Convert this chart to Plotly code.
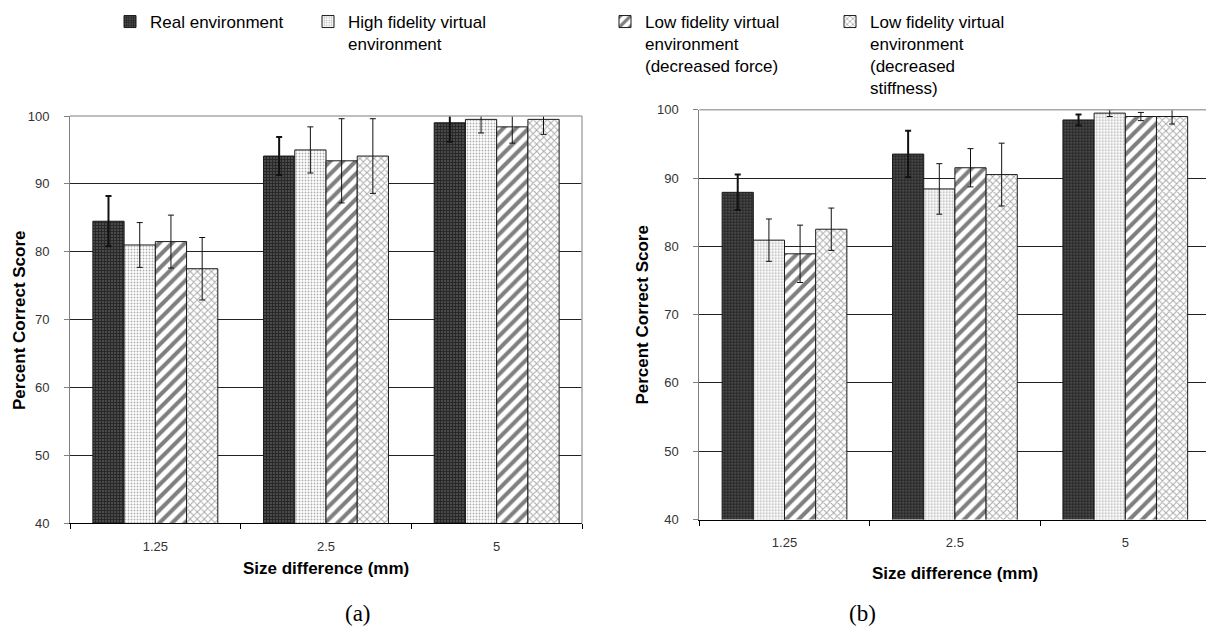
import plotly.graph_objects as go

W, H = 1206, 632

categories = ["1.25", "2.5", "5"]
series = [
    "Real environment",
    "High fidelity virtual<br>environment",
    "Low fidelity virtual<br>environment<br>(decreased force)",
    "Low fidelity virtual<br>environment<br>(decreased<br>stiffness)",
]

# Panel (a)
a_real = [84.5, 94.1, 99.0]
a_high = [81.0, 95.0, 99.5]
a_lowf = [81.5, 93.4, 98.4]
a_lows = [77.5, 94.1, 99.5]
a_real_err = [3.7, 2.8, 2.8]
a_high_err = [3.3, 3.4, 2.0]
a_lowf_err = [3.9, 6.2, 2.4]
a_lows_err = [4.6, 5.5, 2.2]

# Panel (b)
b_real = [87.9, 93.5, 98.5]
b_high = [80.9, 88.4, 99.5]
b_lowf = [78.9, 91.5, 99.0]
b_lows = [82.5, 90.5, 99.0]
b_real_err = [2.6, 3.4, 0.8]
b_high_err = [3.1, 3.7, 0.5]
b_lowf_err = [4.2, 2.8, 0.6]
b_lows_err = [3.1, 4.6, 1.1]

styles = [
    dict(color="#2e2e2e", pattern=dict(shape="+", fgcolor="#000000", bgcolor="#4a4a4a", size=3, solidity=0.5)),
    dict(color="#ffffff", pattern=dict(shape=".", fgcolor="#5e5e5e", bgcolor="#ffffff", size=3, solidity=0.3)),
    dict(color="#ffffff", pattern=dict(shape="/", fgcolor="#000000", bgcolor="#ffffff", size=9, solidity=0.45)),
    dict(color="#ffffff", pattern=dict(shape="x", fgcolor="#555555", bgcolor="#ffffff", size=5, solidity=0.38)),
]
err_thick = [2, 1, 1, 1]
legend_ids = ["legend", "legend2", "legend3", "legend4"]

def px(x):
    return x / W

def py(y):
    return 1 - y / H

fig = go.Figure()

panels = [
    ("x", "y", [a_real, a_high, a_lowf, a_lows], [a_real_err, a_high_err, a_lowf_err, a_lows_err], True),
    ("x2", "y2", [b_real, b_high, b_lowf, b_lows], [b_real_err, b_high_err, b_lowf_err, b_lows_err], False),
]

for pi, (xa, ya, vals, errs, clip) in enumerate(panels):
    for i in range(4):
        show = (pi == 0 and i < 2) or (pi == 1 and i >= 2)
        fig.add_trace(go.Bar(
            x=categories, y=vals[i], name=series[i],
            xaxis=xa, yaxis=ya,
            marker=dict(color=styles[i]["color"], pattern=styles[i]["pattern"],
                        line=dict(color="#1a1a1a", width=1)),
            error_y=dict(type="data", array=errs[i], visible=True,
                         color="#111111", thickness=err_thick[i], width=3),
            showlegend=show, legend=legend_ids[i], cliponaxis=clip,
        ))

axis_font = dict(family="Liberation Sans, Arial, sans-serif", size=13, color="#333333")

xcommon = dict(type="category", showline=True, linecolor="#000000", linewidth=1,
               ticks="outside", tickson="boundaries", ticklen=5, tickcolor="#000000",
               showgrid=False, tickfont=axis_font, ticklabelstandoff=11, fixedrange=True,
               automargin=False)
ycommon = dict(range=[40, 100], dtick=10, showline=True, linecolor="#808080", linewidth=1,
               ticks="outside", ticklen=5, tickcolor="#808080", showgrid=True,
               gridcolor="#222222", gridwidth=1, zeroline=False, tickfont=axis_font,
               ticklabelstandoff=12, automargin=False)

a_x0, a_x1 = 70, 582
b_x0, b_x1 = 699.3, 1206
b_catw = 170.4

leg_font = dict(family="Liberation Sans, Arial, sans-serif", size=17, color="#000000")
leg_common = dict(orientation="v", xanchor="left", yanchor="top", valign="top",
                  xref="container", yref="container",
                  bgcolor="rgba(0,0,0,0)", borderwidth=0, font=leg_font,
                  itemclick=False, itemdoubleclick=False)

leg_y = py(4)
fig.update_layout(
    width=W, height=H,
    margin=dict(l=0, r=0, t=0, b=0, autoexpand=False),
    paper_bgcolor="#ffffff", plot_bgcolor="#ffffff",
    barmode="group", bargap=0.268, bargroupgap=0,
    xaxis=dict(domain=[px(a_x0), px(a_x1)], anchor="y", range=[-0.5, 2.5], **xcommon),
    yaxis=dict(domain=[py(523.3), py(116)], anchor="x", **ycommon),
    xaxis2=dict(domain=[px(b_x0), px(b_x1)], anchor="y2",
                range=[-0.5, -0.5 + (b_x1 - b_x0) / b_catw], **xcommon),
    yaxis2=dict(domain=[py(519.5), py(109.7)], anchor="x2", **ycommon),
    legend=dict(x=px(110), y=leg_y, **leg_common),
    legend2=dict(x=px(308), y=leg_y, **leg_common),
    legend3=dict(x=px(605), y=leg_y, **leg_common),
    legend4=dict(x=px(830), y=leg_y, **leg_common),
    font=dict(family="Liberation Sans, Arial, sans-serif"),
)

# plot-area frame (top and right) in light gray
frame = dict(type="line", line=dict(color="#a8a8a8", width=1.5), layer="above")
fig.add_shape(xref="x domain", yref="y domain", x0=0, x1=1, y0=1, y1=1, **frame)
fig.add_shape(xref="x domain", yref="y domain", x0=1, x1=1, y0=0, y1=1, **frame)
fig.add_shape(xref="x2 domain", yref="y2 domain", x0=0, x1=1, y0=1, y1=1, **frame)

title_font = dict(family="Liberation Sans, Arial, sans-serif", size=17, color="#000000")
annos = [
    dict(text="<b>Percent Correct Score</b>", x=px(19), y=py(320), textangle=-90),
    dict(text="<b>Percent Correct Score</b>", x=px(643), y=py(314.6), textangle=-90),
    dict(text="<b>Size difference (mm)</b>", x=px(326), y=py(568)),
    dict(text="<b>Size difference (mm)</b>", x=px(955), y=py(573)),
]
for a in annos:
    fig.add_annotation(xref="paper", yref="paper", showarrow=False,
                       xanchor="center", yanchor="middle", font=title_font, **a)

cap_font = dict(family="Liberation Serif, Times New Roman, serif", size=23, color="#000000")
fig.add_annotation(text="(a)", x=px(358), y=py(613), xref="paper", yref="paper",
                   showarrow=False, xanchor="center", yanchor="middle", font=cap_font)
fig.add_annotation(text="(b)", x=px(862), y=py(613), xref="paper", yref="paper",
                   showarrow=False, xanchor="center", yanchor="middle", font=cap_font)

fig.write_html("out.html", config={"displayModeBar": False},
               post_script="document.body.style.margin='0';document.body.style.padding='0';")
